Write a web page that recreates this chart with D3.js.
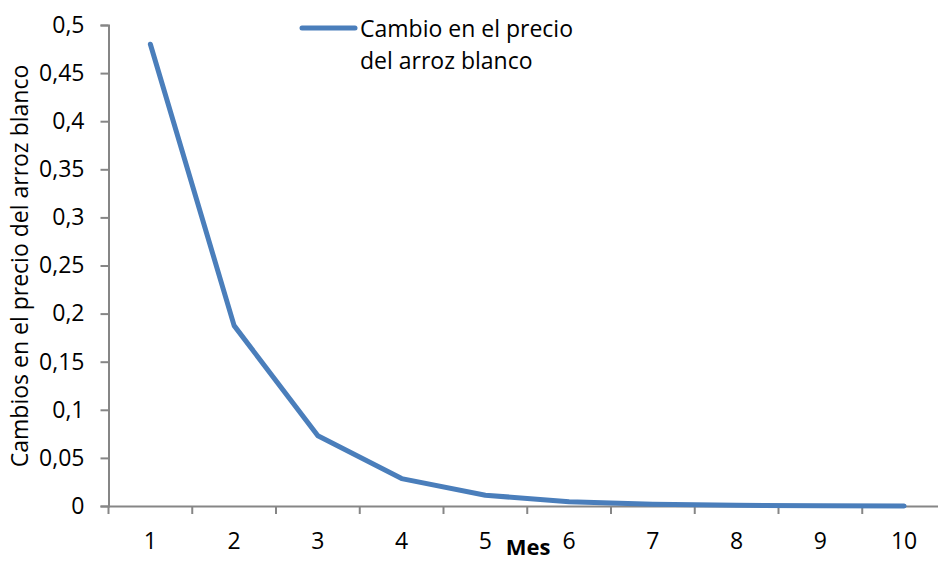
<!DOCTYPE html>
<html><head><meta charset="utf-8">
<script src="https://cdn.jsdelivr.net/npm/d3@7"></script>
<style>body{margin:0;background:#fff}svg{display:block}text{font-family:"Open Sans",sans-serif;fill:#000}</style>
</head><body><svg id="c" width="938" height="562"></svg>
<script>
const months = [1,2,3,4,5,6,7,8,9,10];
const values = [0.48,0.1875,0.073,0.0285,0.0112,0.0045,0.0018,0.0007,0.0003,0.0001];
const yTicks = [0,0.05,0.1,0.15,0.2,0.25,0.3,0.35,0.4,0.45,0.5];
const seriesName = ["Cambio en el precio","del arroz blanco"];
const yTitle = "Cambios en el precio del arroz blanco";
const xTitle = "Mes";

const FONT = "Open Sans";
const FS = 23;
const svg = d3.select("#c");
const x = d3.scaleBand().domain(months).range([108.5, 946]);
const y = d3.scaleLinear().domain([0,0.5]).range([506,25]);
const axisColor = "#868686";

const yAxis = svg.append("g").attr("transform","translate(108.5,0)")
  .call(d3.axisLeft(y).tickValues(yTicks).tickSize(8).tickPadding(16)
    .tickFormat(d=>String(d).replace(".",",")));
yAxis.select(".domain").attr("stroke",axisColor).attr("stroke-width",2);
yAxis.selectAll(".tick line").attr("stroke",axisColor).attr("stroke-width",2);
yAxis.selectAll("text").attr("font-size",FS).attr("fill","#000").attr("font-family",FONT);

const xAxis = svg.append("g").attr("transform","translate(0,506)")
  .call(d3.axisBottom(x).tickSize(0).tickPadding(27));
xAxis.select(".domain").attr("stroke",axisColor).attr("stroke-width",2);
xAxis.selectAll("text").attr("font-size",FS).attr("fill","#000").attr("font-family",FONT);
const bounds = months.map(m=>x(m)).concat([x(10)+x.bandwidth()]);
svg.append("g").selectAll("line").data(bounds).join("line")
  .attr("x1",d=>d).attr("x2",d=>d).attr("y1",506).attr("y2",514)
  .attr("stroke",axisColor).attr("stroke-width",2);

const line = d3.line().x((d,i)=>x(months[i])+x.bandwidth()/2).y(d=>y(d));
svg.append("path").datum(values).attr("d",line).attr("fill","none")
  .attr("stroke","#4A7EBB").attr("stroke-width",5).attr("stroke-linejoin","round").attr("stroke-linecap","round");

svg.append("line").attr("x1",302).attr("x2",355).attr("y1",28).attr("y2",28)
  .attr("stroke","#4A7EBB").attr("stroke-width",5).attr("stroke-linecap","round");
svg.append("text").attr("x",360).attr("y",37).attr("font-size",FS).text(seriesName[0]);
svg.append("text").attr("x",360).attr("y",69).attr("font-size",FS).text(seriesName[1]);

svg.append("text").attr("transform","translate(28,266) rotate(-90)").attr("text-anchor","middle")
  .attr("font-size",FS).text(yTitle);
svg.append("text").attr("x",528).attr("y",555).attr("text-anchor","middle")
  .attr("font-size",22).attr("font-weight","bold").text(xTitle);
</script></body></html>
